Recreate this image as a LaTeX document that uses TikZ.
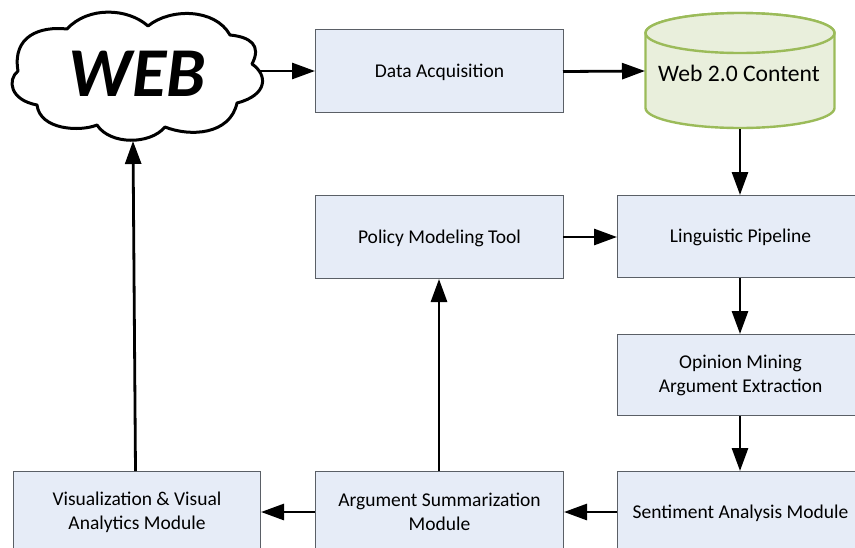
\documentclass[tikz,border=0pt]{standalone}
\usepackage{fontspec}
\setmainfont{Carlito}
\usetikzlibrary{arrows.meta,shapes.geometric}
\definecolor{boxfill}{HTML}{E6ECF7}
\definecolor{boxline}{HTML}{5A5F66}
\definecolor{cylfill}{HTML}{E9EFDC}
\definecolor{cylline}{HTML}{9BBB59}
\newcommand{\lowertext}[1]{\raisebox{-6pt}[0pt][0pt]{#1}}
\tikzset{
  flowbox/.style={draw=boxline,fill=boxfill,line width=1pt,minimum width=248pt,minimum height=83pt,inner sep=0pt,align=center,font=\fontsize{19.5}{24}\selectfont,anchor=north west},
  flow/.style={line width=2.8pt,-{Triangle[length=23pt,width=16pt]},shorten >=0pt},
}
\begin{document}
\begin{tikzpicture}[x=1pt,y=-1pt]
\useasboundingbox (0,0) rectangle (855,547);
\clip (0,0) rectangle (855,547);
\node[flowbox] (acq) at (315,29) {\lowertext{Data Acquisition}};
\node[flowbox] (policy) at (315,195) {\lowertext{Policy Modeling Tool}};
\node[flowbox,minimum width=246pt,minimum height=82pt] (ling) at (617,195) {\lowertext{Linguistic Pipeline}};
\node[flowbox,minimum width=246pt,minimum height=81pt] (opinion) at (617,334) {Opinion Mining\\Argument Extraction};
\node[flowbox,minimum width=246pt] (senti) at (617,471) {Sentiment Analysis Module};
\node[flowbox,minimum height=81pt] (summ) at (315,471) {Argument Summarization\\Module};
\node[flowbox,minimum width=247pt,minimum height=81pt] (vis) at (13,471) {Visualization \& Visual\\Analytics Module};
% cloud
\draw[line width=3pt,fill=white,line join=round]
  (148,26) .. controls (128,8) and (88,6) .. (67,29)
  .. controls (40,26) and (12,36) .. (18,71)
  .. controls (7,80) and (10,100) .. (37,105)
  .. controls (40,130) and (80,132) .. (97,125)
  .. controls (110,145) and (150,145) .. (165,127)
  .. controls (190,137) and (230,135) .. (237,103)
  .. controls (268,95) and (268,75) .. (252,64)
  .. controls (262,45) and (250,37) .. (230,35)
  .. controls (215,8) and (170,8) .. (148,26) -- cycle;
\node[font=\fontsize{70}{70}\selectfont\bfseries\itshape,inner sep=0pt] (web) at (137,74) {WEB};
\coordinate (webe) at (260,71);
\coordinate (webs) at (133,141);
% cylinder
\draw[draw=cylline,fill=cylfill,line width=2.4pt]
  (645.5,33) arc[start angle=180,end angle=360,x radius=94.5,y radius=20]
  -- (834.5,108) arc[start angle=0,end angle=180,x radius=94.5,y radius=20] -- cycle;
\draw[draw=cylline,fill=cylfill,line width=2.4pt] (740,33) ellipse[x radius=94.5,y radius=20];
\node[inner sep=0pt,font=\fontsize{23.6}{26}\selectfont] (db) at (739,73) {Web 2.0 Content};
% connectors
\coordinate (acqe) at (563,71.5);
\coordinate (dbw) at (645,71);
\coordinate (dbs) at (740,129);
\coordinate (vist) at (135.5,471);
\coordinate (polw) at (563,237);
\coordinate (linw) at (617,237);
\draw[flow] (webe) -- (acq.west |- webe);
\draw[flow] (acqe) -- (dbw);
\draw[flow] (dbs) -- (ling.north -| dbs);
\draw[flow] (polw) -- (linw);
\draw[flow] (ling.south -| dbs) -- (opinion.north -| dbs);
\draw[flow] (opinion.south -| dbs) -- (senti.north -| dbs);
\draw[flow] (senti.west |- 0,512) -- (summ.east |- 0,512);
\draw[flow] (summ.west |- 0,512) -- (vis.east |- 0,512);
\draw[flow] (summ.north -| 439,0) -- (policy.south -| 439,0);
\draw[flow] (vist) -- (webs);
\end{tikzpicture}
\end{document}
